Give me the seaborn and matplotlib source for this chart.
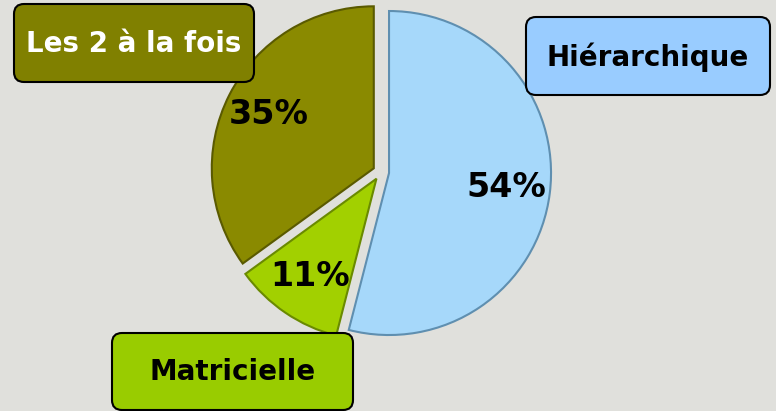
import matplotlib
matplotlib.use('Agg')
import matplotlib.pyplot as plt
from matplotlib.patches import FancyBboxPatch
import seaborn as sns

# donnees
categories = ['Hiérarchique', 'Matricielle', 'Les 2 à la fois']
valeurs = [54, 11, 35]
couleurs_parts = ['#a6d8fa', '#a2d000', '#8a8a00']
couleurs_bords = ['#5f8fb0', '#6a8a00', '#5a5a00']
couleurs_boites = ['#99ccff', '#99cc00', '#808000']
couleurs_texte = ['black', 'black', 'white']

sns.set_theme(style='white')
plt.rcParams['font.family'] = ['DejaVu Sans']

fond = '#e0e0dc'
fig = plt.figure(figsize=(7.76, 4.11), dpi=100, facecolor=fond)
ax = fig.add_axes([0, 0, 1, 1])
ax.set_facecolor(fond)

# pie en coordonnees pixels (y vers le haut)
rayon = 162
wedges, textes, pcts = ax.pie(
    valeurs,
    colors=couleurs_parts,
    explode=[0.05 * rayon] * 3,  # matplotlib: decalage en unites de donnees
    startangle=90,
    counterclock=False,
    center=(381, 239),
    radius=rayon,
    autopct='%d%%',
    pctdistance=0.73,
    wedgeprops=dict(linewidth=1.5),
    textprops=dict(fontsize=24, fontweight='bold', color='black'),
)

# bord sombre pour rappeler l'effet relief
for w, c in zip(wedges, couleurs_bords):
    w.set_edgecolor(c)

# boites d'etiquettes (x0, y0, largeur, hauteur)
boites = [(526, 316, 244, 78), (112, 1, 241, 77), (14, 329, 240, 78)]
for cat, (x0, y0, w, h), fc, tc in zip(categories, boites, couleurs_boites, couleurs_texte):
    ax.add_patch(FancyBboxPatch((x0, y0), w, h,
                                boxstyle='round,pad=0,rounding_size=10',
                                facecolor=fc, edgecolor='black', linewidth=1.5))
    ax.text(x0 + w / 2, y0 + h / 2 - 1, cat, ha='center', va='center',
            fontsize=20, fontweight='bold', color=tc)

ax.set_xlim(0, 776)
ax.set_ylim(0, 411)
ax.set_aspect('equal')
ax.axis('off')

fig.savefig('out.png', dpi=100, facecolor=fond)
